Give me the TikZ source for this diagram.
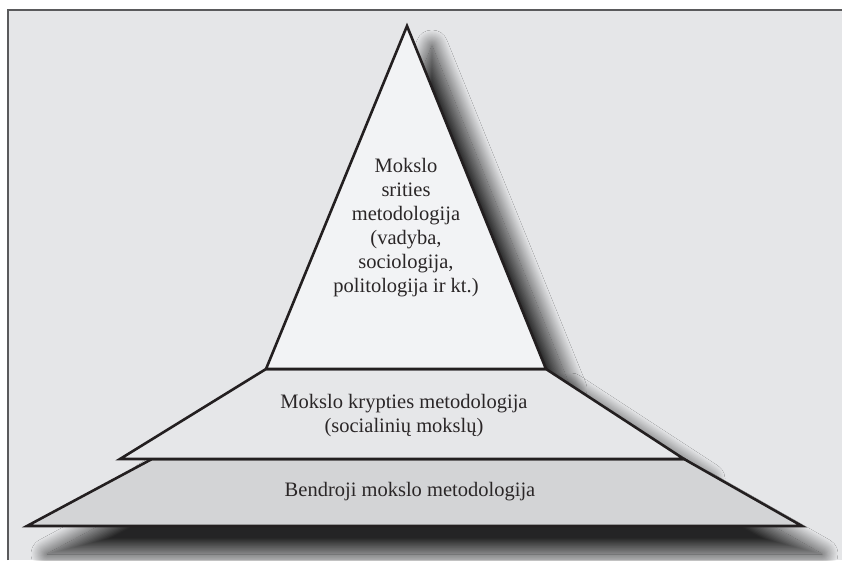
\documentclass[tikz,border=0pt]{standalone}
\usepackage{fontspec}
\setmainfont{Liberation Serif}
\usetikzlibrary{shadows.blur}
\definecolor{pagebg}{HTML}{E5E6E8}
\definecolor{frameline}{HTML}{5A5A5C}
\definecolor{lineink}{HTML}{231F20}
\definecolor{textink}{HTML}{2A2627}
\definecolor{topfill}{HTML}{F2F3F5}
\definecolor{midfill}{HTML}{E6E7E9}
\definecolor{basefill}{HTML}{D3D4D6}
\begin{document}
\begin{tikzpicture}[x=1pt,y=-1pt,
  edge/.style={draw=lineink, line width=2.6pt, line join=miter},
  castshadow/.style={blur shadow={shadow xshift=25pt, shadow yshift=-20pt,
      shadow blur radius=16pt, shadow opacity=84, shadow blur steps=24}},
  floorshadow/.style={blur shadow={shadow xshift=20pt, shadow yshift=-28pt,
      shadow blur radius=16pt, shadow opacity=84, shadow blur steps=24}},
  label/.style={font=\fontsize{20.5}{24}\selectfont, text=textink, align=center}]
  \useasboundingbox (0,0) rectangle (842,560);
  % page and frame
  \fill[white] (0,0) rectangle (842,560);
  \fill[pagebg] (7,9) rectangle (842,560);
  \draw[frameline, line width=1.6pt] (7.8,560) -- (7.8,9.8) -- (842,9.8);

  % corner points
  \coordinate (apex) at (407,26);
  \coordinate (tl) at (266,369);
  \coordinate (tr) at (546,369);
  \coordinate (ml) at (120,459);
  \coordinate (mr) at (684,459);
  \coordinate (bl) at (152,459);
  \coordinate (br) at (684,459);
  \coordinate (bbl) at (27,526);
  \coordinate (bbr) at (802,526);

  % cast shadows under all three levels
  \path[floorshadow] (bl) -- (br) -- (bbr) -- (bbl) -- cycle;
  \path[castshadow] (tl) -- (tr) -- (mr) -- (ml) -- cycle;
  \path[castshadow] (apex) -- (tr) -- (tl) -- cycle;

  % levels of the pyramid
  \path[edge, fill=basefill] (bl) -- (br) -- (bbr) -- (bbl) -- cycle;
  \path[edge, fill=midfill] (tl) -- (tr) -- (mr) -- (ml) -- cycle;
  \path[edge, fill=topfill] (apex) -- (tr) -- (tl) -- cycle;

  % labels
  \node[label] (top) at (406,228) {Mokslo\\srities\\metodologija\\(vadyba,\\sociologija,\\politologija ir kt.)};
  \node[label] (mid) at (404,416) {Mokslo krypties metodologija\\(socialinių mokslų)};
  \node[label] (base) at (410,492) {Bendroji mokslo metodologija};
\end{tikzpicture}
\end{document}
